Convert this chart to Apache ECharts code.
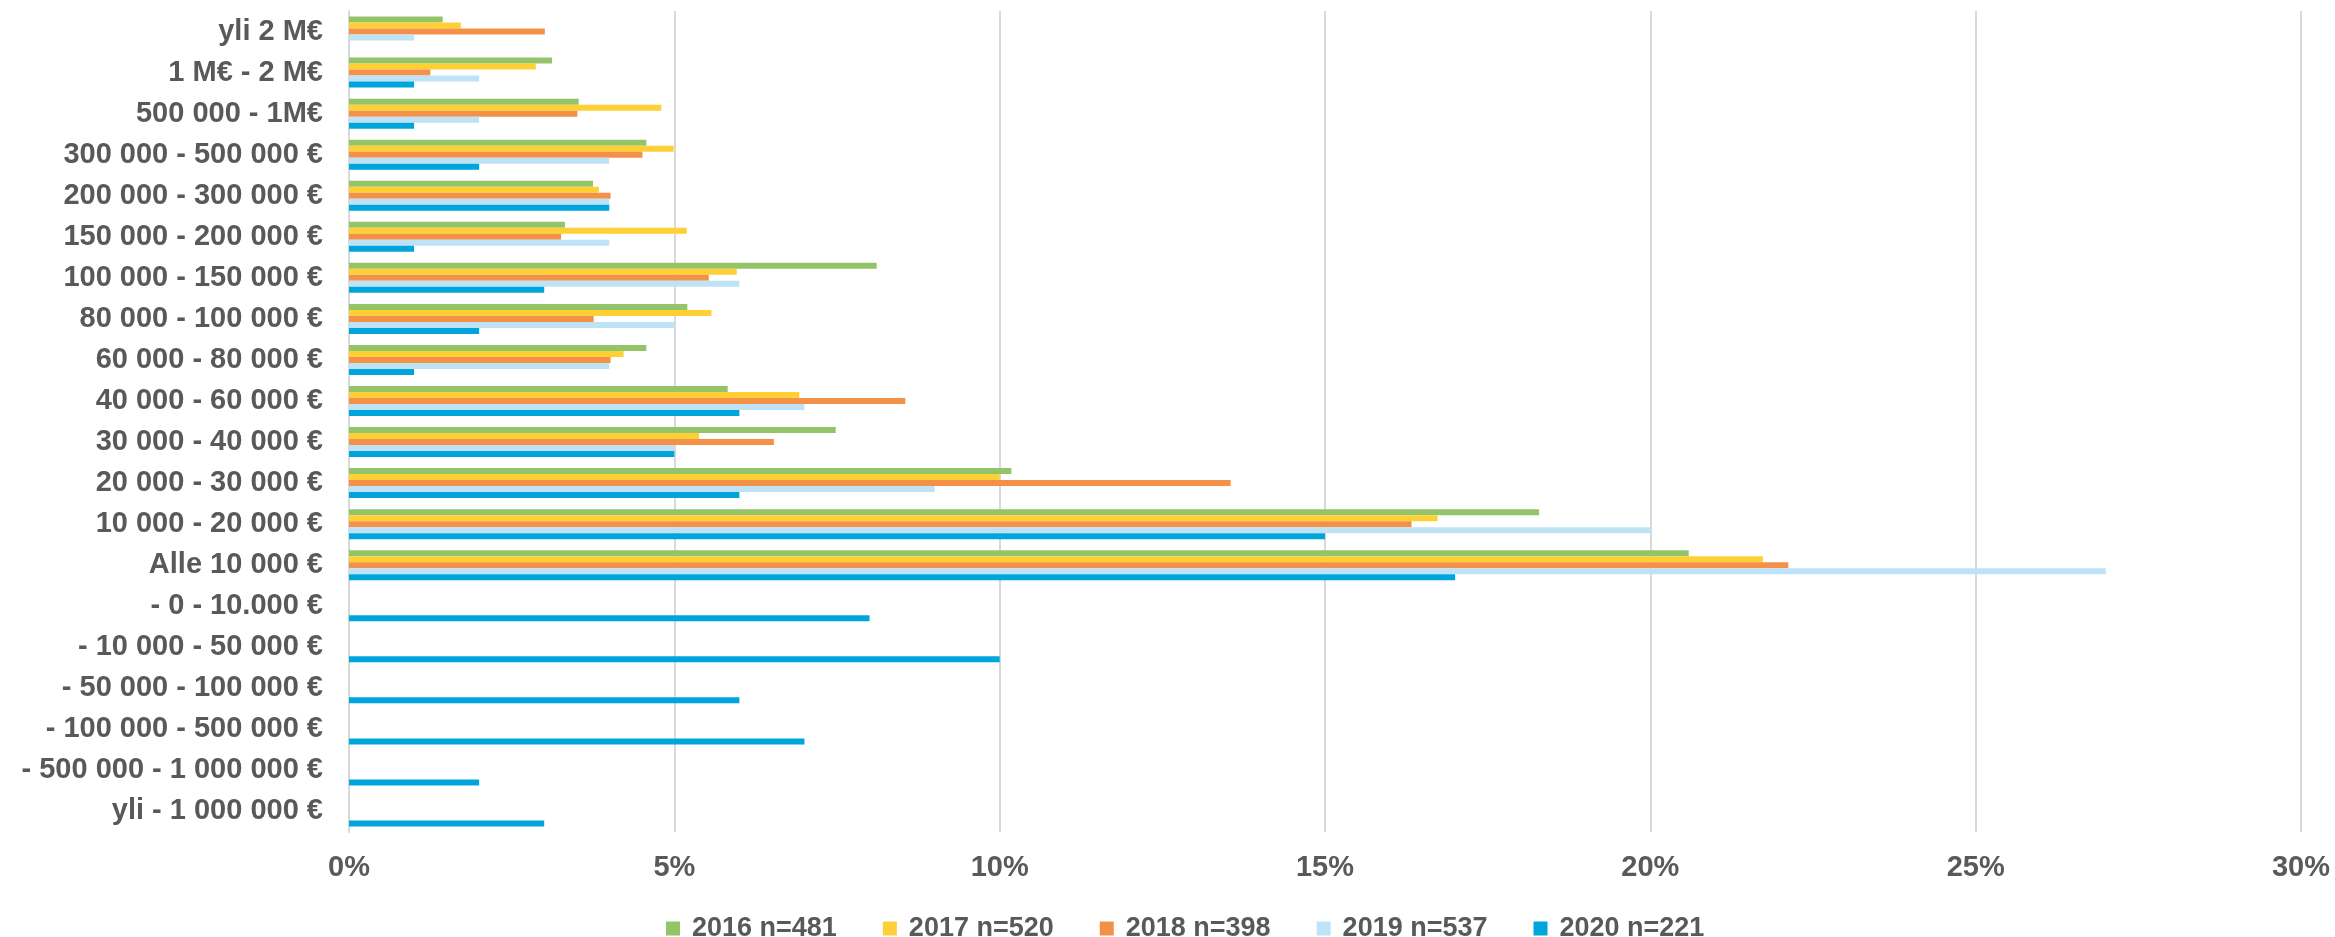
<!DOCTYPE html>
<html lang="fi">

<head>
  <meta charset="utf-8">
  <title>Liikevoitto / tappio</title>
  <script src="https://cdn.jsdelivr.net/npm/echarts@6/dist/echarts.min.js"></script>
  <style>
    html, body {
      margin: 0;
      padding: 0;
      background: #fff;
    }
  </style>
</head>

<body>
  <div id="main" style="width: 2335px; height: 937px;"></div>

  <script>
    // luokat ylhäältä alas
    var categories = ['yli 2 M€', '1 M€ - 2 M€', '500 000 - 1M€', '300 000 - 500 000 €', '200 000 - 300 000 €',
      '150 000 - 200 000 €', '100 000 - 150 000 €', '80 000 - 100 000 €', '60 000 - 80 000 €', '40 000 - 60 000 €',
      '30 000 - 40 000 €', '20 000 - 30 000 €', '10 000 - 20 000 €', 'Alle 10 000 €', '- 0 - 10.000 €',
      '- 10 000 - 50 000 €', '- 50 000 - 100 000 €', '- 100 000 - 500 000 €', '- 500 000 - 1 000 000 €', 'yli - 1 000 000 €'];

    // osuudet prosentteina
    var v2016 = [1.44, 3.12, 3.53, 4.57, 3.75, 3.32, 8.11, 5.2, 4.57, 5.82, 7.48, 10.18, 18.29, 20.59, null, null, null, null, null, null];
    var v2017 = [1.72, 2.87, 4.8, 4.99, 3.84, 5.19, 5.96, 5.57, 4.22, 6.92, 5.38, 10.0, 16.73, 21.73, null, null, null, null, null, null];
    var v2018 = [3.01, 1.25, 3.51, 4.51, 4.02, 3.26, 5.53, 3.76, 4.02, 8.55, 6.53, 13.55, 16.33, 22.12, null, null, null, null, null, null];
    var v2019 = [1, 2, 2, 4, 4, 4, 6, 5, 4, 7, 5, 9, 20, 27, null, null, null, null, null, null];
    var v2020 = [0, 1, 1, 2, 4, 1, 3, 2, 1, 6, 5, 6, 15, 17, 8, 10, 6, 7, 2, 3];

    var seriesNames = ['2016 n=481', '2017 n=520', '2018 n=398', '2019 n=537', '2020 n=221'];
    var seriesData = [v2016, v2017, v2018, v2019, v2020];
    var colors = ['#93C468', '#FFD035', '#F39149', '#BEE3F7', '#00A5DC'];

    var myChart = echarts.init(document.getElementById('main'));

    var textColor = '#595959';
    var font = '"Liberation Sans", Arial, sans-serif';

    var option = {
      color: colors,
      animation: false,
      grid: {
        left: 349,
        right: 34,
        top: 11,
        bottom: 105
      },
      legend: {
        top: 910,
        left: 661,
        itemWidth: 14,
        itemHeight: 14,
        itemGap: 46,
        icon: 'rect',
        textStyle: {
          color: textColor,
          fontFamily: font,
          fontWeight: 'bold',
          fontSize: 27,
          padding: [0, 0, 0, 7]
        },
        data: seriesNames
      },
      xAxis: {
        type: 'value',
        min: 0,
        max: 30,
        interval: 5,
        axisLine: { show: false },
        axisTick: { show: false },
        splitLine: {
          lineStyle: { color: '#D9D9D9', width: 2 }
        },
        axisLabel: {
          color: textColor,
          fontFamily: font,
          fontWeight: 'bold',
          fontSize: 29,
          margin: 21,
          formatter: '{value}%'
        }
      },
      yAxis: {
        type: 'category',
        inverse: true,
        data: categories,
        axisLine: {
          lineStyle: { color: '#D9D9D9', width: 2 }
        },
        axisTick: { show: false },
        axisLabel: {
          color: textColor,
          fontFamily: font,
          fontWeight: 'bold',
          fontSize: 29,
          margin: 26
        }
      },
      series: seriesNames.map(function (name, i) {
        return {
          name: name,
          type: 'bar',
          barWidth: 6,
          barGap: '0%',
          data: seriesData[i]
        };
      })
    };

    myChart.setOption(option);
  </script>
</body>

</html>
